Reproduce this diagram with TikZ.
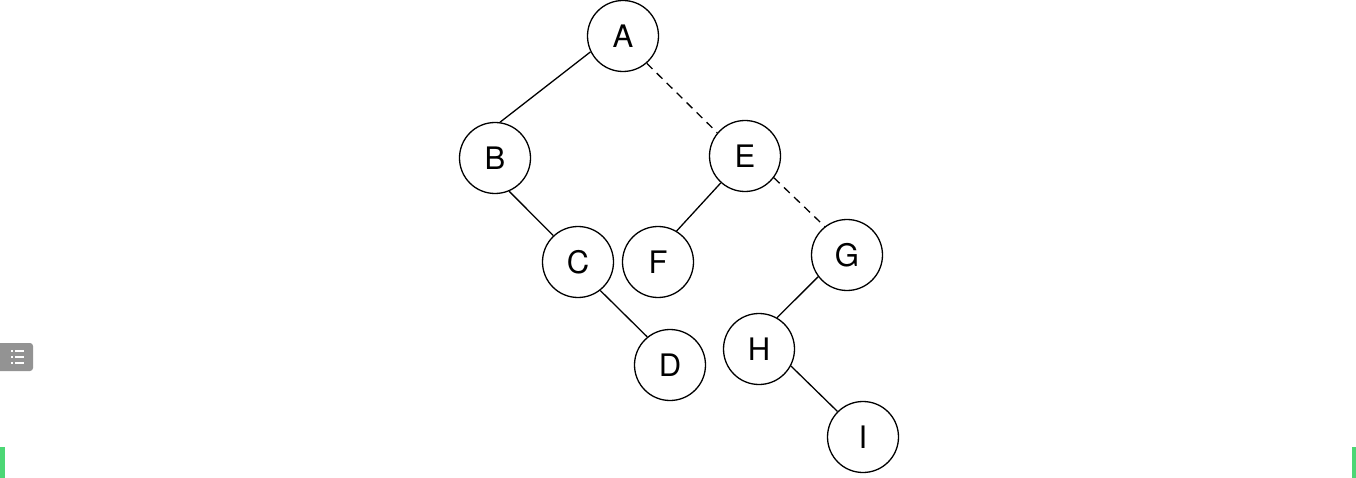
\documentclass[tikz,border=0pt]{standalone}
\usepackage{fontspec}
\setmainfont{TeX Gyre Heros}
\begin{document}
\begin{tikzpicture}[x=1pt,y=-1pt,
  vert/.style={circle,draw=black,line width=1.3pt,minimum size=71pt,inner sep=0pt,font=\fontsize{31}{31}\selectfont},
  edge/.style={line width=1.3pt},
  dedge/.style={line width=1.3pt,dash pattern=on 8pt off 6pt}]
\useasboundingbox (0,0) rectangle (1356,478);
\fill[white] (0,0) rectangle (1356,478);
\node[vert] (A) at (623,36) {A};
\node[vert] (B) at (495,158) {B};
\node[vert] (E) at (745,156) {E};
\node[vert] (C) at (578,262) {C};
\node[vert] (F) at (658,262) {F};
\node[vert] (G) at (847,255) {G};
\node[vert] (D) at (670,365) {D};
\node[vert] (H) at (759,349) {H};
\node[vert] (I) at (863,437) {I};
\draw[edge] (A.206) -- (B.82);
\draw[dedge] (A.311) -- (E.140);
\draw[edge] (B.293) -- (C.133);
\draw[edge] (C.308) -- (D.129);
\draw[edge] (E.228) -- (F.59);
\draw[dedge] (E.323) -- (G.128);
\draw[edge] (G.217) -- (H.60);
\draw[edge] (H.332) -- (I.135);
% side decorations
\fill[gray!85,rounded corners=3pt] (-4,343) rectangle (33,371);
\foreach \yy in {351,357,363} {
  \fill[white] (11,\yy-0.8) rectangle (13,\yy+0.8);
  \fill[white] (15,\yy-0.8) rectangle (24,\yy+0.8);
}
\fill[green!55!teal!70!white] (0,447) rectangle (5,478);
\fill[green!55!teal!70!white] (1352,447) rectangle (1356,478);
\end{tikzpicture}
\end{document}
